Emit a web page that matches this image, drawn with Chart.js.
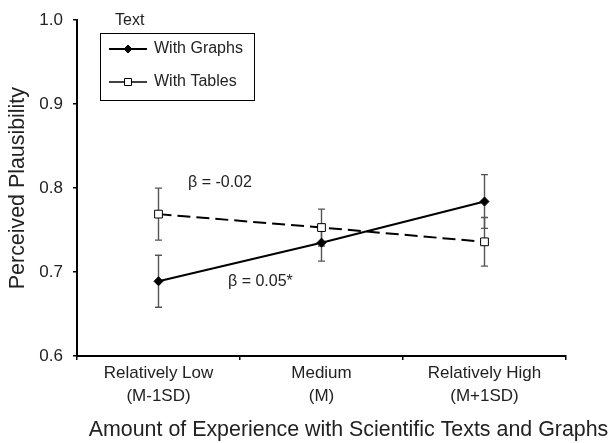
<!DOCTYPE html>
<html>
<head>
<meta charset="utf-8">
<script src="https://cdn.jsdelivr.net/npm/chart.js@4/dist/chart.umd.min.js"></script>
<style>
  html, body { margin: 0; padding: 0; background: #fff; }
  #wrap { width: 612px; height: 443px; }
</style>
</head>
<body>
<div id="wrap"><canvas id="c" width="612" height="443"></canvas></div>
<script>
const categories = [["Relatively Low", "(M-1SD)"], ["Medium", "(M)"], ["Relatively High", "(M+1SD)"]];
const graphsValues = [0.689, 0.735, 0.784];
const graphsErr = [0.031, 0.022, 0.032];
const tablesValues = [0.769, 0.753, 0.736];
const tablesErr = [0.031, 0.022, 0.029];
const yTicks = [0.6, 0.7, 0.8, 0.9, 1.0];
const legendTitle = "Text";
const seriesNames = ["With Graphs", "With Tables"];
const annotations = [
  { text: "\u03B2 = -0.02", x: 188, y: 183 },
  { text: "\u03B2 = 0.05*", x: 228, y: 282 }
];
const xTitle = "Amount of Experience with Scientific Texts and Graphs";
const yTitle = "Perceived Plausibility";

const FONT = "'Liberation Sans', Arial, sans-serif";
const TXT = "#222";

const errorBars = {
  id: 'errorBars',
  beforeDatasetsDraw(chart) {
    const ctx = chart.ctx;
    const xs = chart.scales.x, ys = chart.scales.y;
    const sets = [[graphsValues, graphsErr], [tablesValues, tablesErr]];
    ctx.save();
    ctx.strokeStyle = '#555';
    ctx.lineWidth = 1.4;
    sets.forEach(([vals, errs]) => {
      vals.forEach((v, i) => {
        const x = xs.getPixelForValue(i);
        const y1 = ys.getPixelForValue(v + errs[i]);
        const y2 = ys.getPixelForValue(v - errs[i]);
        ctx.beginPath();
        ctx.moveTo(x, y1); ctx.lineTo(x, y2);
        ctx.moveTo(x - 3.5, y1); ctx.lineTo(x + 3.5, y1);
        ctx.moveTo(x - 3.5, y2); ctx.lineTo(x + 3.5, y2);
        ctx.stroke();
      });
    });
    ctx.restore();
  }
};

const extras = {
  id: 'extras',
  afterDraw(chart) {
    const ctx = chart.ctx;
    ctx.save();
    // legend
    ctx.fillStyle = TXT;
    ctx.font = "16px " + FONT;
    ctx.textBaseline = 'middle';
    ctx.textAlign = 'left';
    ctx.fillText(legendTitle, 115, 21);
    ctx.strokeStyle = '#000';
    ctx.lineWidth = 1;
    ctx.strokeRect(100.5, 33.5, 154, 67);
    const rows = [49, 82];
    chart.data.datasets.forEach((ds, i) => {
      const y = rows[i];
      ctx.beginPath();
      ctx.strokeStyle = '#000';
      ctx.lineWidth = i === 0 ? 2 : 1.4;
      ctx.setLineDash([]);
      ctx.moveTo(109, y); ctx.lineTo(147, y);
      ctx.stroke();
      ctx.fillStyle = ds.pointBackgroundColor;
      ctx.strokeStyle = '#000';
      ctx.lineWidth = 1;
      ctx.beginPath();
      if (i === 0) {
        ctx.moveTo(128, y - 4); ctx.lineTo(132, y); ctx.lineTo(128, y + 4); ctx.lineTo(124, y); ctx.closePath();
      } else {
        ctx.rect(124.5, y - 3.5, 7, 7);
      }
      ctx.fill(); ctx.stroke();
      ctx.fillStyle = TXT;
      ctx.fillText(ds.label, 154, y);
    });
    // annotations
    annotations.forEach(a => ctx.fillText(a.text, a.x, a.y));
    // x title
    ctx.font = "21.4px " + FONT;
    ctx.textAlign = 'center';
    ctx.fillText(xTitle, 348.5, 430);
    ctx.restore();
  }
};

new Chart(document.getElementById('c'), {
  type: 'line',
  data: {
    labels: categories,
    datasets: [
      {
        label: seriesNames[0],
        data: graphsValues,
        borderColor: '#000',
        borderWidth: 2,
        pointStyle: 'rectRot',
        pointRadius: 4.5,
        pointBackgroundColor: '#000',
        pointBorderColor: '#000',
        pointBorderWidth: 1,
        tension: 0
      },
      {
        label: seriesNames[1],
        data: tablesValues,
        borderColor: '#000',
        borderWidth: 2,
        borderDash: [13, 6],
        pointStyle: 'rect',
        pointRadius: 5.5,
        pointBackgroundColor: '#fff',
        pointBorderColor: '#000',
        pointBorderWidth: 1,
        tension: 0
      }
    ]
  },
  options: {
    responsive: false,
    animation: false,
    layout: { padding: { left: 0, right: 46, top: 15, bottom: 0 } },
    plugins: { legend: { display: false }, tooltip: { enabled: false } },
    scales: {
      x: {
        type: 'category',
        offset: true,
        afterFit(s) { s.height = 87; },
        grid: { offset: true, drawOnChartArea: false, drawTicks: true, tickLength: 4, color: '#000', lineWidth: 1.5 },
        border: { display: true, color: '#000', width: 2 },
        ticks: { color: TXT, font: { family: FONT, size: 17, lineHeight: 1.33 }, padding: 2, maxRotation: 0, autoSkip: false }
      },
      y: {
        min: 0.6, max: 1.0,
        afterFit(s) { s.width = 77; },
        afterBuildTicks(s) { s.ticks = yTicks.map(v => ({ value: v })); },
        grid: { drawOnChartArea: false, drawTicks: true, tickLength: 4, color: '#000', lineWidth: 1.5 },
        border: { display: true, color: '#000', width: 2 },
        ticks: { color: TXT, font: { family: FONT, size: 17 }, padding: 10, callback: v => Number(v).toFixed(1) },
        title: { display: true, text: yTitle, color: TXT, font: { family: FONT, size: 21.4 }, padding: { top: 5, bottom: 0 } }
      }
    }
  },
  plugins: [errorBars, extras]
});
</script>
</body>
</html>
